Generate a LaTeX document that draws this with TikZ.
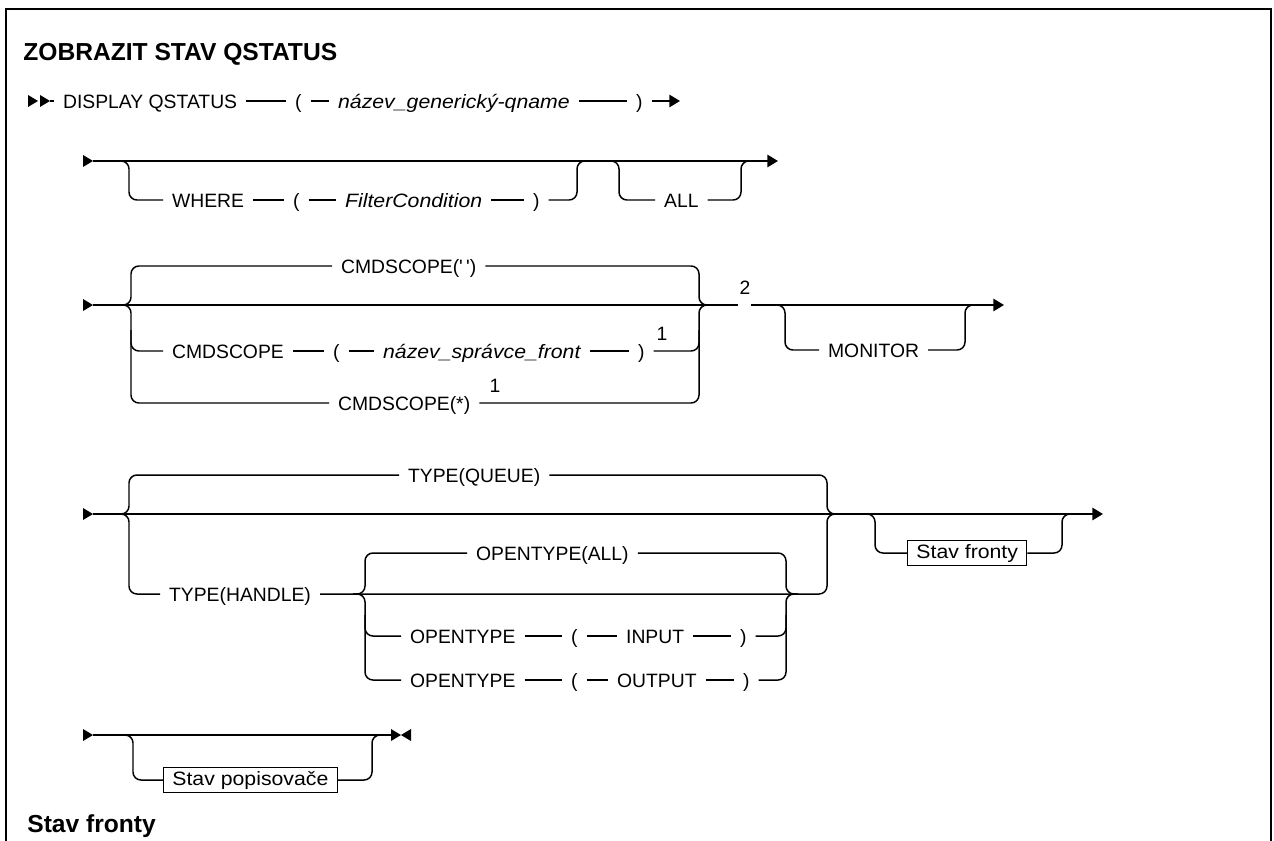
\documentclass[tikz,border=0pt]{standalone}
\usepackage{fontspec}
\setmainfont{Liberation Sans}
\newfontfamily\varfont[FakeStretch=1.1]{Liberation Sans}
\usetikzlibrary{arrows.meta}

\newcommand{\railfont}{\fontsize{11}{13}\selectfont}
\newcommand{\headfont}{\fontsize{14}{16}\selectfont\bfseries}
% filled start/stop marks of the syntax lines
\newcommand{\tipR}[1]{\fill (#1) -- ++(-10,-6) -- ++(0,12) -- cycle;}
\newcommand{\tipL}[1]{\fill (#1) -- ++(10,-6) -- ++(0,12) -- cycle;}

\begin{document}
\begin{tikzpicture}[x=0.02cm, y=-0.02cm,
    rail/.style={line width=0.85pt, rounded corners=4.5pt},
    kw/.style={font=\railfont, inner xsep=5pt, inner ysep=2pt,
               text height=9pt, text depth=1pt, anchor=west},
    var/.style={kw, font=\railfont\varfont\itshape},
    refbox/.style={kw, draw, line width=0.7pt, font=\railfont\varfont,
                   text height=8.5pt, text depth=2.5pt, inner ysep=1.8pt},
    fnote/.style={font=\railfont, inner sep=0pt},
    head/.style={font=\headfont, inner sep=0pt, anchor=west},
    tip/.style={-{Triangle[length=6pt,width=7pt]}}]
    \useasboundingbox (0,0) rectangle (1274,841);
    \draw[line width=1.2pt] (6,841) -- (6,9) -- (1271,9) -- (1271,841);
    \node[head] (title) at (23,54) {ZOBRAZIT STAV QSTATUS};

    % DISPLAY QSTATUS ( qname )
    \tipR{38,101} \tipR{50,101}
    \coordinate (l1s) at (50,101);
    \coordinate (l1e) at (680,101);
    \node[kw] (disp) at (54,101) {DISPLAY QSTATUS};
    \node[kw] (l1lp) at (286,101) {(};
    \node[var] (qname) at (329,101) {název\_generický-qname};
    \node[kw] (l1rp) at (627,101) {)};
    \draw[rail] (l1s) -- (disp.west) (disp.east) -- (l1lp.west)
      (l1lp.east) -- (qname.west) (qname.east) -- (l1rp.west);
    \draw[rail, tip] (l1rp.east) -- (l1e);

    % WHERE / ALL
    \tipR{93,161}
    \coordinate (m2s) at (93,161);
    \coordinate (m2e) at (778,161);
    \draw[rail, tip] (m2s) -- (m2e);
    \node[kw] (where) at (163,200) {WHERE};
    \node[kw] (w_lp) at (284,200) {(};
    \node[var] (fcond) at (336,200) {FilterCondition};
    \node[kw] (w_rp) at (524,200) {)};
    \node[kw] (all) at (655,200) {ALL};
    \draw[rail] (117,161) -- (129,161) -- (129,200) -- (where.west);
    \draw[rail] (where.east) -- (w_lp.west) (w_lp.east) -- (fcond.west)
      (fcond.east) -- (w_rp.west);
    \draw[rail] (w_rp.east) -- (577,200) -- (577,161) -- (589,161);
    \draw[rail] (607,161) -- (619,161) -- (619,200) -- (all.west);
    \draw[rail] (all.east) -- (741,200) -- (741,161) -- (753,161);

    % CMDSCOPE / MONITOR
    \tipR{93,305}
    \coordinate (m3s) at (93,305);
    \node[kw] (cs_blank) at (332,266) {CMDSCOPE(\textquotesingle\,\textquotesingle)};
    \node[kw] (cs_q) at (163,351) {CMDSCOPE};
    \node[kw] (cs_lp) at (324,351) {(};
    \node[var] (qmgr) at (374,351) {název\_správce\_front};
    \node[kw] (cs_rp) at (629,351) {)};
    \node[fnote] (fn1a) at (662,334) {1};
    \node[kw] (cs_all) at (329,403) {CMDSCOPE(*)};
    \node[fnote] (fn1b) at (495,386) {1};
    \node[fnote] (fn2) at (745,288) {2};
    \node[kw] (mon) at (819,350) {MONITOR};
    \draw[rail] (m3s) -- (738,305);
    \draw[rail, tip] (751,305) -- (1004,305);
    \draw[rail] (119,305) -- (131,305) -- (131,266) -- (cs_blank.west);
    \draw[rail] (119,305) -- (131,305) -- (131,403) -- (cs_all.west);
    \draw[rail] (131,330) -- (131,351) -- (cs_q.west);
    \draw[rail] (cs_q.east) -- (cs_lp.west) (cs_lp.east) -- (qmgr.west)
      (qmgr.east) -- (cs_rp.west);
    \draw[rail] (cs_blank.east) -- (699,266) -- (699,305) -- (711,305);
    \draw[rail] (cs_all.east) -- (699,403) -- (699,305) -- (711,305);
    \draw[rail] (cs_rp.east) -- (699,351) -- (699,330);
    \draw[rail] (773,305) -- (785,305) -- (785,350) -- (mon.west);
    \draw[rail] (mon.east) -- (965,350) -- (965,305) -- (977,305);

    % TYPE / OPENTYPE / Stav fronty
    \tipR{93,514}
    \coordinate (m4s) at (93,514);
    \draw[rail, tip] (m4s) -- (1103,514);
    \node[kw] (tq) at (399,475) {TYPE(QUEUE)};
    \node[kw] (th) at (160,594) {TYPE(HANDLE)};
    \node[kw] (ot_all) at (467,553) {OPENTYPE(ALL)};
    \node[kw] (ot_in) at (401,636) {OPENTYPE};
    \node[kw] (in_lp) at (562,636) {(};
    \node[kw] (inp) at (617,636) {INPUT};
    \node[kw] (in_rp) at (731,636) {)};
    \node[kw] (ot_out) at (401,680) {OPENTYPE};
    \node[kw] (out_lp) at (562,680) {(};
    \node[kw] (outp) at (608,680) {OUTPUT};
    \node[kw] (out_rp) at (734,680) {)};
    \node[refbox] (qstat) at (907,553) {Stav fronty};
    \draw[rail] (117,514) -- (129,514) -- (129,475) -- (tq.west);
    \draw[rail] (117,514) -- (129,514) -- (129,594) -- (th.west);
    \draw[rail] (tq.east) -- (827,475) -- (827,514) -- (839,514);
    \draw[rail] (th.east) -- (827,594) -- (827,514) -- (839,514);
    \draw[rail] (353,594) -- (365,594) -- (365,553) -- (ot_all.west);
    \draw[rail] (353,594) -- (365,594) -- (365,680) -- (ot_out.west);
    \draw[rail] (365,615) -- (365,636) -- (ot_in.west);
    \draw[rail] (ot_in.east) -- (in_lp.west) (in_lp.east) -- (inp.west)
      (inp.east) -- (in_rp.west);
    \draw[rail] (ot_out.east) -- (out_lp.west) (out_lp.east) -- (outp.west)
      (outp.east) -- (out_rp.west);
    \draw[rail] (ot_all.east) -- (786,553) -- (786,594) -- (798,594);
    \draw[rail] (out_rp.east) -- (786,680) -- (786,594) -- (798,594);
    \draw[rail] (in_rp.east) -- (786,636) -- (786,615);
    \draw[rail] (863,514) -- (875,514) -- (875,553) -- (qstat.west);
    \draw[rail] (qstat.east) -- (1062,553) -- (1062,514) -- (1074,514);

    % Stav popisovace
    \tipR{93,735}
    \coordinate (m5s) at (93,735);
    \coordinate (m5e) at (391,735);
    \draw[rail] (m5s) -- (m5e);
    \tipR{401,735} \tipL{401,735}
    \node[refbox] (hstat) at (163,780) {Stav popisovače};
    \draw[rail] (121,735) -- (133,735) -- (133,780) -- (hstat.west);
    \draw[rail] (hstat.east) -- (372,780) -- (372,735) -- (384,735);

    \node[head] (sect) at (27,826) {Stav fronty};
\end{tikzpicture}
\end{document}
